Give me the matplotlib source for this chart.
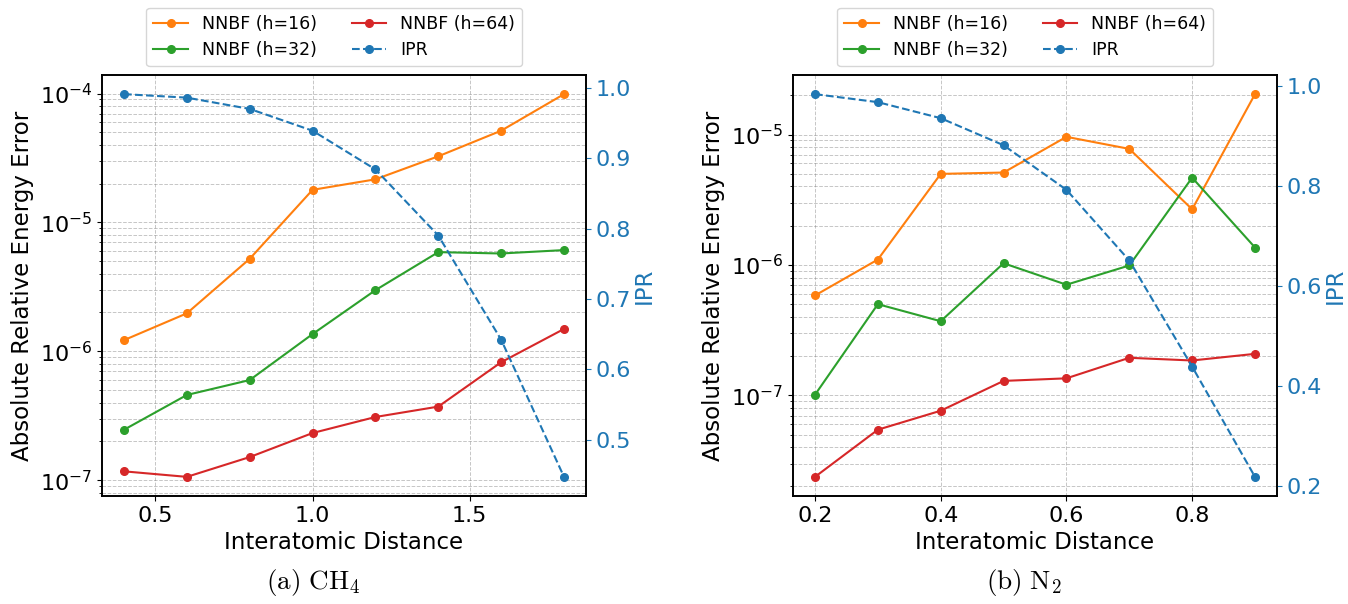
import numpy as np
import matplotlib
matplotlib.use("Agg")
import matplotlib.pyplot as plt
from matplotlib import rcParams
from matplotlib.ticker import MultipleLocator

rcParams['mathtext.fontset'] = 'cm'
rcParams['axes.linewidth'] = 1.2

# (a) CH4
ch4_dist = [0.4, 0.6, 0.8, 1.0, 1.2, 1.4, 1.6, 1.8]
ch4_h16 = [1.22e-6, 1.97e-6, 5.22e-6, 1.79e-5, 2.16e-5, 3.26e-5, 5.15e-5, 9.9e-5]
ch4_h32 = [2.46e-7, 4.58e-7, 5.98e-7, 1.36e-6, 2.98e-6, 5.88e-6, 5.74e-6, 6.1e-6]
ch4_h64 = [1.17e-7, 1.06e-7, 1.51e-7, 2.32e-7, 3.09e-7, 3.72e-7, 8.22e-7, 1.49e-6]
ch4_ipr = [0.991, 0.986, 0.970, 0.939, 0.884, 0.790, 0.642, 0.447]

# (b) N2
n2_dist = [0.2, 0.3, 0.4, 0.5, 0.6, 0.7, 0.8, 0.9]
n2_h16 = [5.83e-7, 1.10e-6, 4.99e-6, 5.11e-6, 9.6e-6, 7.76e-6, 2.67e-6, 2.04e-5]
n2_h32 = [1.01e-7, 5.0e-7, 3.7e-7, 1.03e-6, 7.05e-7, 9.9e-7, 4.67e-6, 1.36e-6]
n2_h64 = [2.37e-8, 5.45e-8, 7.62e-8, 1.29e-7, 1.35e-7, 1.94e-7, 1.85e-7, 2.08e-7]
n2_ipr = [0.983, 0.967, 0.935, 0.881, 0.792, 0.651, 0.439, 0.219]

captions = [r'$\mathrm{(a)\ CH_4}$', r'$\mathrm{(b)\ N_2}$']


def draw(ax, dist, h16, h32, h64, ipr, xstep, ipr_step):
    l1, = ax.plot(dist, h16, 'o-', color='tab:orange', lw=1.5, ms=5.5, label='NNBF (h=16)')
    l2, = ax.plot(dist, h32, 'o-', color='tab:green', lw=1.5, ms=5.5, label='NNBF (h=32)')
    l3, = ax.plot(dist, h64, 'o-', color='tab:red', lw=1.5, ms=5.5, label='NNBF (h=64)')
    ax.set_yscale('log')
    ax.xaxis.set_major_locator(MultipleLocator(xstep))
    ax.set_xlabel('Interatomic Distance', fontsize=16.5)
    ax.set_ylabel('Absolute Relative Energy Error', fontsize=16.5)
    ax.tick_params(axis='both', which='major', labelsize=16)
    ax.grid(True, which='major', axis='x', linestyle='--', color='gray', alpha=0.45, lw=0.7)
    ax.grid(True, which='both', axis='y', linestyle='--', color='gray', alpha=0.45, lw=0.7)

    ax2 = ax.twinx()
    l4, = ax2.plot(dist, ipr, 'o--', color='tab:blue', lw=1.5, ms=5.5, label='IPR')
    ax2.yaxis.set_major_locator(MultipleLocator(ipr_step))
    ax2.set_ylabel('IPR', color='tab:blue', fontsize=16.5, labelpad=1)
    ax2.tick_params(axis='y', colors='tab:blue', labelsize=16)
    ax2.spines['right'].set_color('black')

    handles = [l1, l2, l3, l4]
    ax.legend(handles=handles, loc='lower center', bbox_to_anchor=(0.48, 1.0),
              ncol=2, fontsize=12.5, columnspacing=2.0)
    return ax2


fig = plt.figure(figsize=(13.48, 6.04), dpi=100)
ax_a = fig.add_axes([102 / 1348, 108 / 604, 484 / 1348, 421 / 604])
ax_b = fig.add_axes([793 / 1348, 108 / 604, 484 / 1348, 421 / 604])

draw(ax_a, ch4_dist, ch4_h16, ch4_h32, ch4_h64, ch4_ipr, 0.5, 0.1)
draw(ax_b, n2_dist, n2_h16, n2_h32, n2_h64, n2_ipr, 0.2, 0.2)

fig.text(313 / 1348, 1 - 583 / 604, captions[0], ha='center', va='center', fontsize=19.5)
fig.text(1024 / 1348, 1 - 583 / 604, captions[1], ha='center', va='center', fontsize=19.5)

fig.savefig('out.png', dpi=100)
